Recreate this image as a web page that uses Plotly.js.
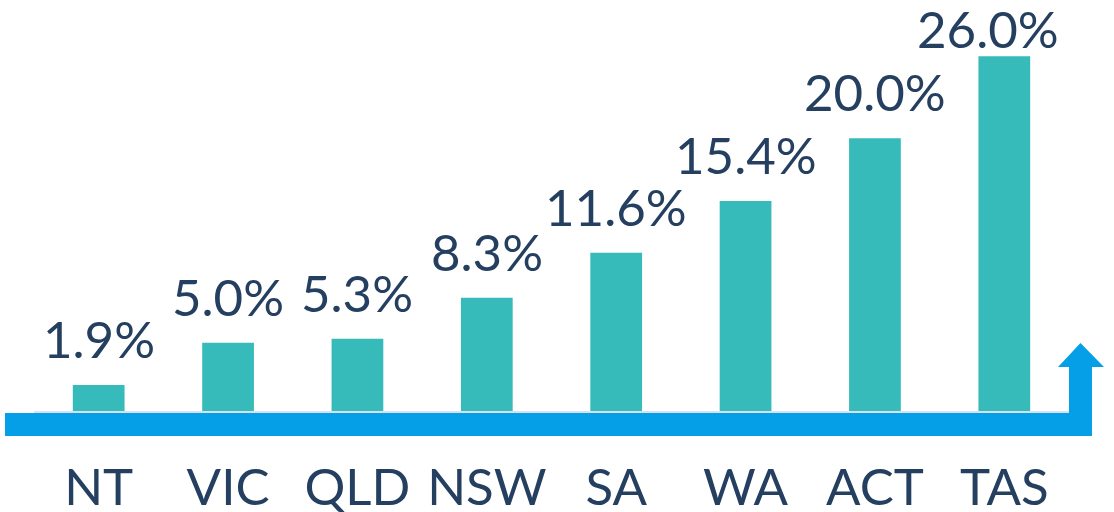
<!DOCTYPE html>
<html>
<head>
<meta charset="utf-8">
<script src="https://cdn.plot.ly/plotly-3.0.1.min.js"></script>
<style>html,body{margin:0;padding:0;background:#fff;}#chart{width:1114px;height:512px;}</style>
</head>
<body>
<div id="chart"></div>
<script>
const states = ["NT", "VIC", "QLD", "NSW", "SA", "WA", "ACT", "TAS"];
const values = [1.9, 5.0, 5.3, 8.3, 11.6, 15.4, 20.0, 26.0];
const labels = ["1.9%", "5.0%", "5.3%", "8.3%", "11.6%", "15.4%", "20.0%", "26.0%"];

const textColor = "#243F60";
const fontFam = "Lato, Carlito, sans-serif";
const trace = {
  type: "bar",
  x: states,
  y: values,
  marker: {color: "#37BBBA"},
  hoverinfo: "skip"
};

// the tallest label is nudged to stay inside the frame, as in the original
const annotations = states.map((s, i) => {
  const last = i === states.length - 1;
  return {
    x: s, y: values[i], xref: "x", yref: "y",
    text: labels[i], showarrow: false,
    xanchor: "center", yanchor: "bottom",
    yshift: last ? -5 : 14, xshift: last ? -16 : 0,
    font: {family: fontFam, size: 51, color: textColor}
  };
});

const layout = {
  width: 1114, height: 512,
  margin: {l: 34, r: 45, t: 29, b: 101},
  paper_bgcolor: "#ffffff", plot_bgcolor: "#ffffff",
  bargap: 0.6,
  showlegend: false,
  xaxis: {
    automargin: false,
    showgrid: false, zeroline: false,
    showline: true, linecolor: "#D9E1EC", linewidth: 2,
    ticks: "", ticklabelstandoff: 31,
    tickfont: {family: fontFam, size: 51, color: textColor}
  },
  yaxis: {range: [0, 28], visible: false, automargin: false, showgrid: false, zeroline: false},
  annotations: annotations,
  shapes: [{
    type: "path", xref: "paper", yref: "paper",
    path: "M -0.028 -0.0052 L 1.0 -0.0052 L 1.0 0.1152 L 0.9894 0.1152 L 1.0111 0.178 L 1.0338 0.1152 L 1.0222 0.1152 L 1.0222 -0.0654 L -0.028 -0.0654 Z",
    fillcolor: "#049FE6", line: {width: 0}, layer: "above"
  }]
};

Plotly.newPlot("chart", [trace], layout, {displayModeBar: false, staticPlot: true});
</script>
</body>
</html>
